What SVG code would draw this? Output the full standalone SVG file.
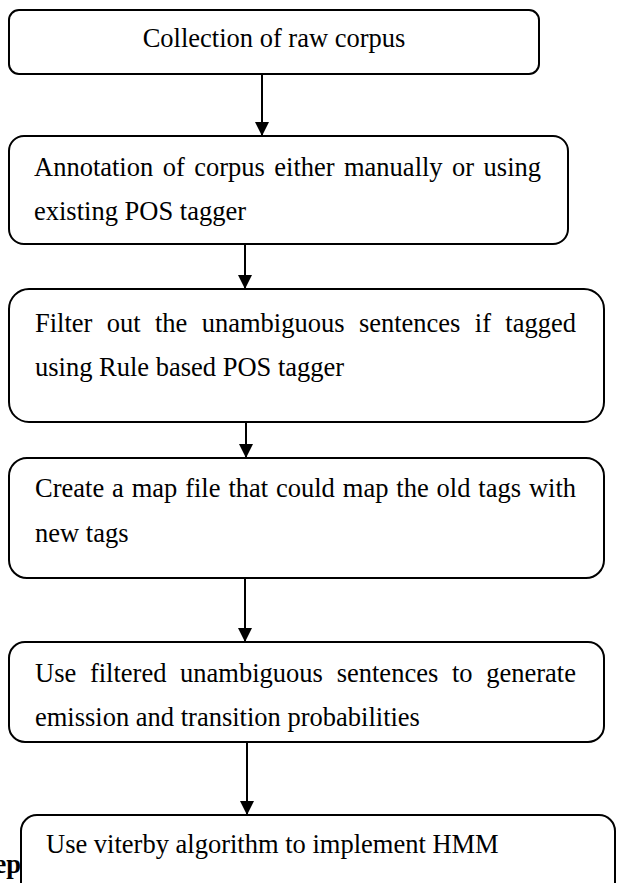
<svg xmlns="http://www.w3.org/2000/svg" width="617" height="883" viewBox="0 0 617 883">
<style>
.box{fill:#fff;stroke:#000;stroke-width:2}
.t{font-family:"Liberation Serif","Times New Roman",serif;font-size:26.5px;fill:#000}
.b{font-family:"Liberation Serif","Times New Roman",serif;font-size:26.5px;font-weight:bold;fill:#000}
.c{stroke:#000;stroke-width:2;fill:none}
</style>
<defs>
<marker id="ah" markerUnits="userSpaceOnUse" markerWidth="14" markerHeight="14" refX="13" refY="7" orient="auto">
<path d="M0,0 L14,7 L0,14 Z" fill="#000"/>
</marker>
</defs>
<rect width="617" height="883" fill="#fff"/>
<text class="b" x="21" y="873" text-anchor="end">ep</text>
<g id="connectors">
<line class="c" x1="262" y1="74" x2="262" y2="135" marker-end="url(#ah)"/>
<line class="c" x1="245" y1="244" x2="245" y2="288" marker-end="url(#ah)"/>
<line class="c" x1="246" y1="422" x2="246" y2="457" marker-end="url(#ah)"/>
<line class="c" x1="245" y1="578" x2="245" y2="641" marker-end="url(#ah)"/>
<line class="c" x1="247" y1="742" x2="247" y2="814" marker-end="url(#ah)"/>
</g>
<g id="n1">
<rect class="box" x="9" y="10" width="530" height="64" rx="10"/>
<text class="t" x="274" y="47" text-anchor="middle">Collection of raw corpus</text>
</g>
<g id="n2">
<rect class="box" x="9" y="136" width="559" height="108" rx="15"/>
<text class="t" y="176"><tspan x="34">Annotation</tspan><tspan x="162.7">of</tspan><tspan x="194.2">corpus</tspan><tspan x="274.3">either</tspan><tspan x="344">manually</tspan><tspan x="452.1">or</tspan><tspan x="483.6">using</tspan></text>
<text class="t" x="34" y="220">existing POS tagger</text>
</g>
<g id="n3">
<rect class="box" x="9" y="289" width="595" height="133" rx="20"/>
<text class="t" y="332"><tspan x="35">Filter</tspan><tspan x="106.8">out</tspan><tspan x="155">the</tspan><tspan x="201.7">unambiguous</tspan><tspan x="358.9">sentences</tspan><tspan x="474.8">if</tspan><tspan x="505.3">tagged</tspan></text>
<text class="t" x="35" y="376">using Rule based POS tagger</text>
</g>
<g id="n4">
<rect class="box" x="9" y="458" width="595" height="120" rx="18"/>
<text class="t" y="497"><tspan x="35">Create</tspan><tspan x="112">a</tspan><tspan x="131.7">map</tspan><tspan x="185.2">file</tspan><tspan x="228.4">that</tspan><tspan x="276">could</tspan><tspan x="342.8">map</tspan><tspan x="396.3">the</tspan><tspan x="436.6">old</tspan><tspan x="478.3">tags</tspan><tspan x="528.9">with</tspan></text>
<text class="t" x="35" y="542">new tags</text>
</g>
<g id="n5">
<rect class="box" x="9" y="642" width="595" height="100" rx="16"/>
<text class="t" y="682"><tspan x="35">Use</tspan><tspan x="89.9">filtered</tspan><tspan x="180.1">unambiguous</tspan><tspan x="336.7">sentences</tspan><tspan x="451.9">to</tspan><tspan x="486.2">generate</tspan></text>
<text class="t" x="35" y="726">emission and transition probabilities</text>
</g>
<g id="n6">
<rect class="box" x="21" y="815" width="594" height="100" rx="16"/>
<text class="t" x="46" y="853">Use viterby algorithm to implement HMM</text>
</g>
</svg>
